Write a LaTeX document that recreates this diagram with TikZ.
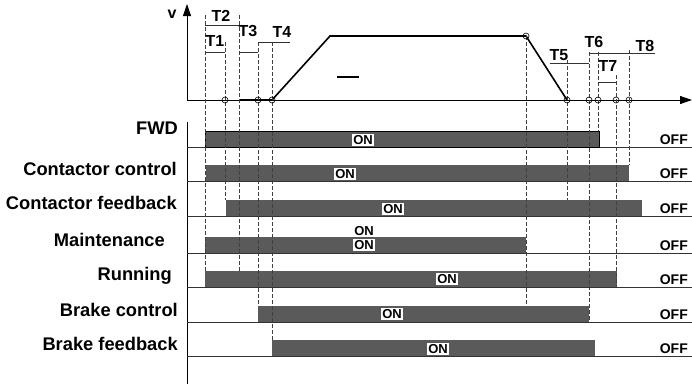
\documentclass[tikz,border=0pt]{standalone}
\usepackage{fontspec}
\setmainfont{Liberation Sans}
\usetikzlibrary{arrows.meta}
\definecolor{bargray}{RGB}{90,90,90}
\tikzset{
  siglbl/.style={font=\fontsize{18.3}{20}\selectfont\bfseries, anchor=base east, inner sep=0pt},
  offlbl/.style={font=\fontsize{14}{16}\selectfont\bfseries, anchor=base east, inner sep=0pt},
  onlbl/.style={font=\fontsize{13}{14}\selectfont\bfseries, fill=white, inner sep=1pt},
  tlbl/.style={font=\fontsize{16}{18}\selectfont\bfseries, inner sep=0pt},
  tline/.style={black!75, dash pattern=on 4pt off 2pt},
  ivl/.style={black!80, line width=0.6pt},
  evt/.style={draw, circle, inner sep=0pt, minimum size=6pt, line width=0.6pt}
}

\begin{document}
\begin{tikzpicture}[x=1pt,y=-1pt]
\useasboundingbox (0,0) rectangle (692,384);
\draw[line width=0.8pt, -{Triangle[length=12pt,width=8pt]}] (187,100) -- (187,4);
\draw[line width=0.8pt, -{Triangle[length=12pt,width=8pt]}] (187,100) -- (692,100);
\node[tlbl] (v) at (172,14) {v};
\draw[line width=0.8pt] (187,122) -- (187,384);

\foreach \nm/\txt/\lx/\lb/\bt/\bb/\xs/\xe/\onx/\ony in {
  fwd/FWD/178/134/131/147/205/599/363/140,
  cc/Contactor control/177/175/165/181/206/629/345/174,
  cf/Contactor feedback/177/209/200/216/226/642/393/209,
  mnt/Maintenance/165/246/237/253/205/526/364/245,
  run/Running/172/280/271/287/205/617/447/279,
  bc/Brake control/178/316/306/322/258/589/392/314,
  bf/Brake feedback/178/350/340/356/272/595/438/349}{
  \draw[black!80, line width=0.6pt] (187,\bb) -- (692,\bb);
  \fill[bargray] (\xs,\bt) rectangle (\xe,\bb);
  \node[siglbl] (lbl-\nm) at (\lx,\lb) {\txt};
  \node[offlbl] (off-\nm) at (688,\bb-3) {OFF};
  \node[onlbl] (on-\nm) at (\onx,\ony) {ON};
}
\draw[line width=0.8pt] (205,131) rectangle (599,147);
\node[onlbl] (on-fwd) at (363,140) {ON};
\node[onlbl, fill=none] (on-mnt2) at (364,231) {ON};

\draw[line width=1.6pt] (239,100) -- (272,100) -- (330,36) -- (526,36) -- (567,100);
\draw[line width=1.6pt] (337,77) -- (359,77);

\foreach \x/\ya/\yb in {205/15/271, 225/42/200, 239/15/271, 258/42/306, 272/42/340,
  526/36/306, 567/60/200, 589/52/322, 598/52/131, 616/75/287, 629/50/165}
  \draw[tline] (\x,\ya) -- (\x,\yb);

\foreach \x in {225,258,272,567,589,598,616,629}
  \node[evt] (e\x) at (\x,100) {};
\node[evt] (e526) at (526,36) {};

\draw[ivl] (205,25) -- (239,25);
\draw[ivl] (205,52) -- (225,52);
\draw[ivl] (239,52) -- (258,52);
\draw[ivl] (258,42) -- (290,42);
\draw[ivl] (550,63) -- (589,63);
\draw[ivl] (589,53) -- (629,53);
\draw[ivl] (629,53) -- (655,53);
\draw[ivl] (598,82) -- (616,82);

\node[tlbl] (t1) at (215,41) {T1};
\node[tlbl] (t2) at (221,16) {T2};
\node[tlbl] (t3) at (248,31) {T3};
\node[tlbl] (t4) at (282,32) {T4};
\node[tlbl] (t5) at (559,55) {T5};
\node[tlbl] (t6) at (594,42) {T6};
\node[tlbl] (t7) at (608,66) {T7};
\node[tlbl] (t8) at (645,46) {T8};
\end{tikzpicture}
\end{document}
